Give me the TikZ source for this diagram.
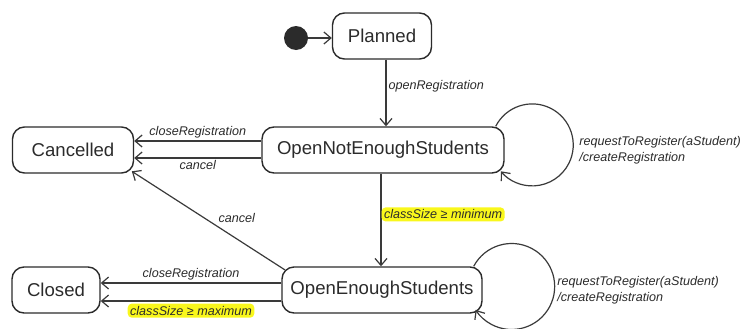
\documentclass[tikz,border=0pt]{standalone}
\usepackage{fontspec}
\setmainfont{Liberation Sans}
\usetikzlibrary{arrows.meta,positioning}
\definecolor{ink}{HTML}{2B2B2B}
\definecolor{edge}{HTML}{3A3A3A}
\definecolor{hilite}{HTML}{F9F71C}

\begin{document}
\begin{tikzpicture}[
  x=0.5pt, y=0.5pt,
  >={Straight Barb[length=3.5pt,width=6pt]},
  state/.style={draw=ink, line width=0.7pt, rounded corners=6pt, minimum height=23pt,
    font=\fontsize{9.3}{11}\selectfont, text=ink, inner sep=0pt},
  trans/.style={->, draw=edge, line width=0.6pt},
  lbl/.style={font=\fontsize{6.3}{8}\selectfont\itshape, text=ink, inner sep=1pt},
  guard/.style={lbl, fill=hilite, rounded corners=2pt, inner sep=1.2pt},
]
\useasboundingbox (0,0) rectangle (748,328);

\node[circle, fill=ink, minimum size=12pt, inner sep=0pt] (init) at (296,290) {};
\node[state, minimum width=49.5pt] (planned) at (382,292) {Planned};
\node[state, minimum width=121pt] (ones) at (383,178) {OpenNotEnoughStudents};
\node[state, minimum width=60.5pt] (cancelled) at (73,178) {Cancelled};
\node[state, minimum width=100pt] (oes) at (382,38) {OpenEnoughStudents};
\node[state, minimum width=44pt] (closed) at (56,38) {Closed};

\draw[trans] (init) -- (planned.west |- init);
\draw[trans] ([xshift=2pt]planned.south) -- ([xshift=1.5pt]ones.north)
  node[lbl, pos=0.4, right] (lblOpen) {openRegistration};

\draw[trans] ([yshift=4.5pt]ones.west) -- ([yshift=4.5pt]cancelled.east)
  node[lbl, pos=0.5, above] (lblClose1) {closeRegistration};
\draw[trans] ([yshift=-4pt]ones.west) -- ([yshift=-4pt]cancelled.east)
  node[lbl, pos=0.5, below] (lblCancel1) {cancel};

\draw[trans] ([xshift=-1pt]ones.south) -- ([xshift=-0.5pt]oes.north)
  node[guard, pos=0.44, right] (lblMin) {classSize ≥ minimum};

\draw[trans] ([xshift=1.75pt,yshift=-1.75pt]oes.north west) -- ([xshift=-1.2pt,yshift=1.2pt]cancelled.south east)
  node[lbl, pos=0.45, above right] (lblCancel2) {cancel};

\draw[trans] ([yshift=3.5pt]oes.west) -- ([yshift=3.5pt]closed.east)
  node[lbl, pos=0.5, above] (lblClose2) {closeRegistration};
\draw[trans] ([yshift=-5.5pt]oes.west) -- ([yshift=-5.5pt]closed.east)
  node[guard, pos=0.5, below=1pt] (lblMax) {classSize ≥ maximum};

\draw[trans] ([xshift=-4.5pt]ones.north east) arc[start angle=153, end angle=-140, radius=20.5pt];
\node[lbl, anchor=west, align=left] (lblReq1) at (577,178) {requestToRegister(aStudent)\\/createRegistration};

\draw[trans] ([xshift=-4.5pt]oes.north east) arc[start angle=152, end angle=-147, radius=21.5pt];
\node[lbl, anchor=west, align=left] (lblReq2) at (555,38) {requestToRegister(aStudent)\\/createRegistration};

\end{tikzpicture}
\end{document}
